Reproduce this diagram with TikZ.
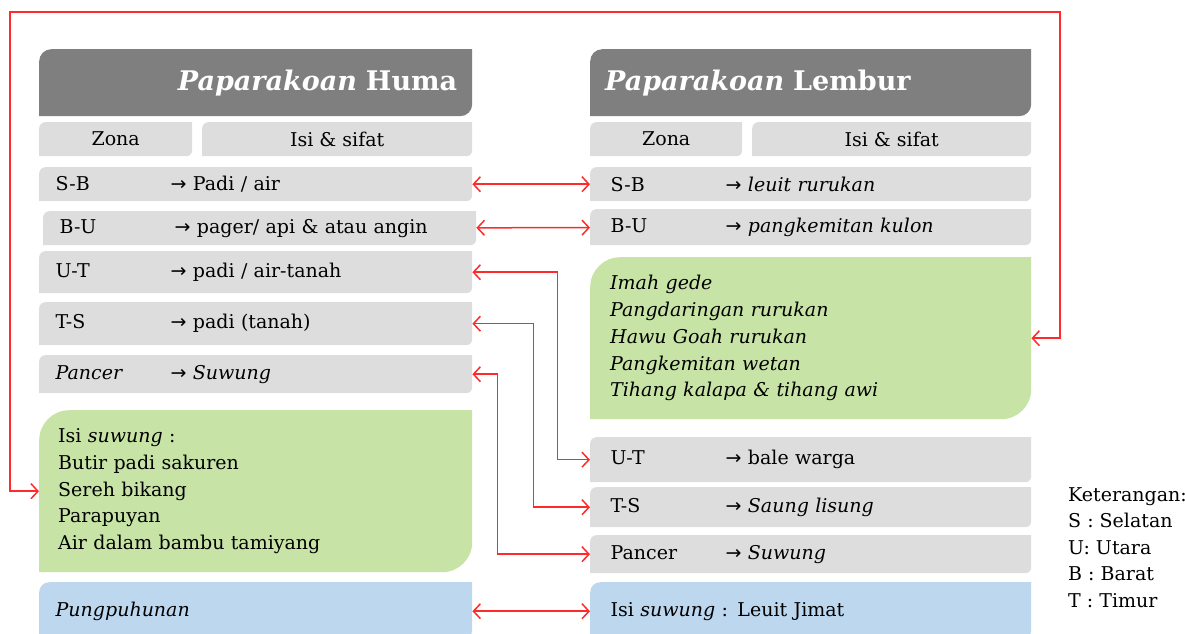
\documentclass[tikz,border=0pt]{standalone}
\usepackage{fontspec}
\setmainfont{DejaVu Serif}
\newfontfamily\panahfont{DejaVu Sans}
\usetikzlibrary{arrows.meta}
\definecolor{abu}{HTML}{DDDDDD}
\definecolor{abutua}{HTML}{7F7F7F}
\definecolor{hijau}{HTML}{C7E3A6}
\definecolor{biru}{HTML}{BDD7EE}
\definecolor{merah}{HTML}{FF2A2A}
\newcommand{\zona}[2]{\makebox[115pt][l]{#1}{\panahfont →} #2}
\tikzset{
    kotak/.style 2 args={rectangle, anchor=north west, inner ysep=0pt,
        path picture={\fill[#1] ([yshift=-#2]path picture bounding box.north west)
            arc[start angle=180, end angle=90, radius=#2]
            -- (path picture bounding box.north east)
            -- ([yshift=#2]path picture bounding box.south east)
            arc[start angle=0, end angle=-90, radius=#2]
            -- (path picture bounding box.south west) -- cycle;}},
    judul/.style={kotak={abutua}{12pt}, minimum height=67pt, text=white,
        inner xsep=15pt, font=\fontsize{27}{32}\selectfont\bfseries},
    baris/.style={kotak={abu}{6pt}, inner xsep=13pt, text width=400pt, align=left},
    kepala/.style={kotak={abu}{6pt}, minimum height=34pt, inner xsep=0pt},
    isian/.style={kotak={#1}{30pt}, inner xsep=19pt, align=left,
        font=\fontsize{19}{26.8}\selectfont\itshape},
    kiri/.style={minimum width=433pt},
    kanan/.style={minimum width=441pt},
    hubung/.style={draw=merah, line width=1.5pt,
        {Straight Barb[length=7pt,width=15pt]}-{Straight Barb[length=7pt,width=15pt]}},
}
\begin{document}
\begin{tikzpicture}
[
    x=1pt, y=-1pt,
    every node/.append style={font=\fontsize{19}{26}\selectfont},
]
\useasboundingbox (0,0) rectangle (1185,633);
% Paparakoan Huma
\node[judul, kiri, text width=403pt, align=right] (hHuma) at (39,49) {\textit{Paparakoan} Huma};
\node[kepala, minimum width=153pt] (zL) at (39,122) {Zona};
\node[kepala, minimum width=270pt] (iL) at (202,122) {Isi \& sifat};
\node[baris, kiri, minimum height=34pt] (sbL) at (39,167) {\zona{S-B}{Padi / air}};
\node[baris, kiri, minimum height=34pt] (buL) at (43,211) {\zona{B-U}{pager/ api \& atau angin}};
\node[baris, kiri, minimum height=42pt] (utL) at (39,251) {\zona{U-T}{padi / air-tanah}};
\node[baris, kiri, minimum height=43pt] (tsL) at (39,302) {\zona{T-S}{padi (tanah)}};
\node[baris, kiri, minimum height=38pt] (pcL) at (39,355) {\zona{\textit{Pancer}}{\textit{Suwung}}};
\node[isian=hijau, kiri, text width=395pt, minimum height=162pt, font=\fontsize{19}{26.8}\selectfont] (gL) at (39,410)
    {Isi \textit{suwung} :\\Butir padi sakuren\\Sereh bikang\\Parapuyan\\Air dalam bambu tamiyang};
\node[baris, kiri, kotak={biru}{10pt}, minimum height=58pt] (bL) at (39,582) {\textit{Pungpuhunan}};
% Paparakoan Lembur
\node[judul, kanan, text width=411pt, align=left] (hLembur) at (590,49) {\textit{Paparakoan} Lembur};
\node[kepala, minimum width=152pt] (zR) at (590,122) {Zona};
\node[kepala, minimum width=279pt] (iR) at (752,122) {Isi \& sifat};
\node[baris, kanan, minimum height=34pt] (sbR) at (590,167) {\zona{S-B}{\textit{leuit rurukan}}};
\node[baris, kanan, minimum height=36pt] (buR) at (590,209) {\zona{B-U}{\textit{pangkemitan kulon}}};
\node[isian=hijau, kanan, text width=401pt, minimum height=162pt] (gR) at (590,257)
    {Imah gede\\Pangdaringan rurukan\\Hawu Goah rurukan\\Pangkemitan wetan\\Tihang kalapa \& tihang awi};
\node[baris, kanan, minimum height=45pt] (utR) at (590,437) {\zona{U-T}{bale warga}};
\node[baris, kanan, minimum height=40pt] (tsR) at (590,487) {\zona{T-S}{\textit{Saung lisung}}};
\node[baris, kanan, minimum height=38pt] (pcR) at (590,535) {\zona{Pancer}{\textit{Suwung}}};
\node[baris, kanan, kotak={biru}{10pt}, minimum height=58pt] (bR) at (590,582) {Isi \textit{suwung} : Leuit Jimat};
% Keterangan
\node[anchor=north west, inner sep=0pt, align=left, font=\fontsize{19}{26.5}\selectfont] (ket) at (1068,487)
    {Keterangan:\\S : Selatan\\U: Utara\\B : Barat\\T : Timur};
% hubungan
\draw[hubung] (sbL) -- (sbR);
\draw[hubung] (buL) -- (buR);
\draw[hubung] (utL.east) -- ++(85,0) |- (utR.west);
\draw[hubung] (tsL.east) -- ++(61,0) |- (tsR.west);
\draw[hubung] (pcL.east) -- ++(25,0) |- (pcR.west);
\draw[hubung] (bL) -- (bR);
\draw[hubung] (gR.east) -| (1060,12) -| ([xshift=-29pt]gL.west) -- (gL.west);
\end{tikzpicture}
\end{document}
